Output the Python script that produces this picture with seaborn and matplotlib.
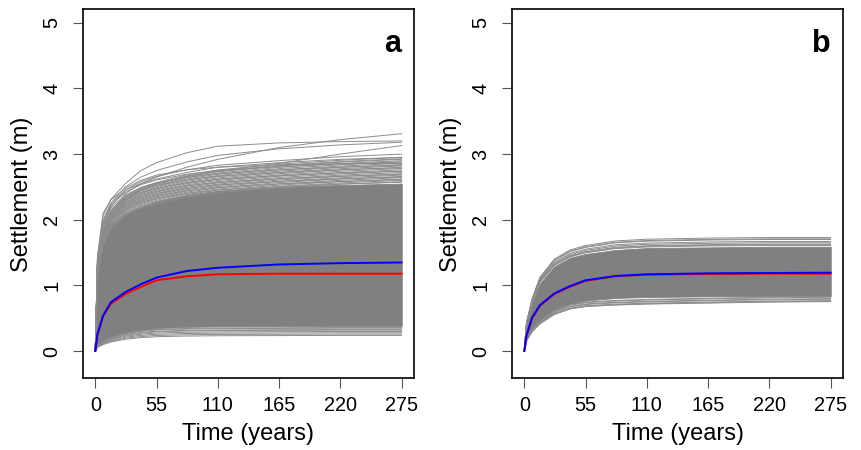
import numpy as np
import pandas as pd
import matplotlib
matplotlib.use("Agg")
import matplotlib.pyplot as plt
import seaborn as sns

# ---------------- data ----------------
time_years = [0, 2, 7, 14, 27, 41, 55, 82, 110, 165, 220, 275]
x_ticks = [0, 55, 110, 165, 220, 275]
y_ticks = [0, 1, 2, 3, 4, 5]
panel_labels = ["a", "b"]

# Panel a
a_mean_red = [0, 0.26, 0.53, 0.72, 0.87, 0.98, 1.08, 1.14, 1.17, 1.18, 1.18, 1.18]
a_mean_blue = [0, 0.26, 0.54, 0.745, 0.90, 1.02, 1.12, 1.22, 1.27, 1.32, 1.34, 1.35]
a_core_upper = [0, 1.30, 1.72, 1.93, 2.10, 2.20, 2.28, 2.38, 2.44, 2.50, 2.53, 2.55]
a_core_lower = [0, 0.08, 0.15, 0.21, 0.28, 0.32, 0.35, 0.37, 0.377, 0.381, 0.385, 0.385]
a_top_lines = [
    [0, 1.40, 2.06, 2.31, 2.55, 2.75, 2.87, 3.02, 3.12, 3.17, 3.19, 3.20],
    [0, 1.20, 1.80, 2.10, 2.40, 2.55, 2.65, 2.80, 2.92, 3.10, 3.22, 3.31],
    [0, 1.30, 1.95, 2.25, 2.50, 2.65, 2.75, 2.88, 2.98, 3.08, 3.14, 3.18],
    [0, 1.10, 1.70, 2.00, 2.30, 2.45, 2.55, 2.66, 2.74, 2.86, 3.00, 3.13],
    [0, 1.25, 1.90, 2.20, 2.45, 2.58, 2.66, 2.76, 2.83, 2.90, 2.96, 3.00],
    [0, 1.35, 2.00, 2.25, 2.45, 2.55, 2.62, 2.72, 2.80, 2.87, 2.92, 2.95],
    [0, 1.45, 2.10, 2.30, 2.48, 2.60, 2.68, 2.76, 2.80, 2.84, 2.85, 2.86],
]
a_shape_high = [0, 0.45, 0.62, 0.72, 0.80, 0.845, 0.87, 0.91, 0.935, 0.965, 0.985, 1.0]
a_high_finals = [2.95, 2.93, 2.92, 2.90, 2.88, 2.86, 2.84, 2.82, 2.80, 2.78,
                 2.76, 2.74, 2.72, 2.70, 2.68, 2.66, 2.64, 2.62, 2.60, 2.58]
a_shape_mid = [0, 0.50, 0.68, 0.77, 0.84, 0.88, 0.905, 0.935, 0.955, 0.975, 0.99, 1.0]
a_mid_finals = [2.88, 2.83, 2.79, 2.74, 2.69, 2.65, 2.61, 2.57]
a_shape_low = [0, 0.25, 0.42, 0.58, 0.76, 0.86, 0.92, 0.96, 0.98, 0.99, 1.0, 1.0]
a_low_finals = [0.24, 0.26, 0.28, 0.30, 0.32, 0.33, 0.35, 0.36]

# Panel b
b_mean_red = [0, 0.24, 0.50, 0.69, 0.87, 0.98, 1.07, 1.14, 1.165, 1.175, 1.18, 1.18]
b_mean_blue = [0, 0.24, 0.51, 0.70, 0.88, 0.99, 1.08, 1.145, 1.17, 1.185, 1.19, 1.195]
b_core_upper = [0, 0.40, 0.73, 1.03, 1.29, 1.42, 1.48, 1.54, 1.57, 1.58, 1.59, 1.59]
b_core_lower = [0, 0.17, 0.33, 0.47, 0.63, 0.72, 0.77, 0.81, 0.825, 0.835, 0.84, 0.84]
b_shape_high = [0, 0.25, 0.46, 0.65, 0.81, 0.89, 0.93, 0.97, 0.985, 0.995, 1.0, 1.0]
b_high_finals = [1.73, 1.71, 1.70, 1.67, 1.65, 1.63, 1.62, 1.61]
b_shape_low = [0, 0.22, 0.39, 0.55, 0.74, 0.85, 0.90, 0.93, 0.95, 0.97, 0.99, 1.0]
b_low_finals = [0.755, 0.76, 0.77, 0.79, 0.80, 0.82, 0.83]

# ---------------- build long tables ----------------
def lines_frame(explicit, groups):
    rows = []
    k = 0
    for ln in explicit:
        for t, v in zip(time_years, ln):
            rows.append((k, t, v))
        k += 1
    for shape, finals in groups:
        for f in finals:
            for t, s in zip(time_years, shape):
                rows.append((k, t, f * s))
            k += 1
    return pd.DataFrame(rows, columns=["line", "time", "settlement"])

panels = [
    dict(core=(a_core_lower, a_core_upper),
         lines=[lines_frame(a_top_lines, [(a_shape_high, a_high_finals),
                                          (a_shape_mid, a_mid_finals)]),
                lines_frame([], [(a_shape_low, a_low_finals)])],
         red=a_mean_red, blue=a_mean_blue),
    dict(core=(b_core_lower, b_core_upper),
         lines=[lines_frame([], [(b_shape_high, b_high_finals)]),
                lines_frame([], [(b_shape_low, b_low_finals)])],
         red=b_mean_red, blue=b_mean_blue),
]

# ---------------- plot ----------------
sns.set_theme(style="white")
plt.rcParams["font.family"] = ["Liberation Sans", "DejaVu Sans"]
plt.rcParams["text.color"] = "black"
plt.rcParams["axes.labelcolor"] = "black"
plt.rcParams["xtick.color"] = "black"
plt.rcParams["ytick.color"] = "black"

fig = plt.figure(figsize=(8.61, 4.5), dpi=100)
ax_pos = [[83 / 861, 72 / 450, 331 / 861, 369 / 450],
          [512 / 861, 72 / 450, 331 / 861, 369 / 450]]

gray = "#808080"
for i, p in enumerate(panels):
    ax = fig.add_axes(ax_pos[i])
    ax.fill_between(time_years, p["core"][0], p["core"][1], color=gray, lw=0.6,
                    edgecolor=gray)
    for df in p["lines"]:
        sns.lineplot(data=df, x="time", y="settlement", units="line",
                     estimator=None, color="#8c8c8c", lw=0.7, ax=ax,
                     legend=False)
    mean_df = pd.DataFrame({"time": time_years, "red": p["red"], "blue": p["blue"]})
    sns.lineplot(data=mean_df, x="time", y="red", color="#FF0000", lw=1.4, ax=ax)
    sns.lineplot(data=mean_df, x="time", y="blue", color="#0000FF", lw=1.4, ax=ax)

    ax.set_xlim(-11, 286)
    ax.set_ylim(-0.408, 5.208)
    ax.set_xticks(x_ticks)
    ax.set_yticks(y_ticks)
    ax.set_xticklabels([str(v) for v in x_ticks])
    ax.set_yticklabels([str(v) for v in y_ticks])
    ax.tick_params(axis="both", which="both", direction="out", length=7,
                   width=0.8, color="#555555", labelcolor="black",
                   labelsize=14.3, left=True, bottom=True)
    ax.tick_params(axis="x", pad=6.0)
    ax.tick_params(axis="y", pad=8.6)
    for lab in ax.get_yticklabels():
        lab.set_rotation(90)
        lab.set_va("center")
        lab.set_ha("right")
    for sp in ax.spines.values():
        sp.set_visible(True)
        sp.set_color("black")
        sp.set_linewidth(1.2)
    ax.grid(False)
    ax.set_xlabel("Time (years)", fontsize=17, color="black")
    ax.set_ylabel("Settlement (m)", fontsize=17, color="black")
    ax.xaxis.label.set_va("center")
    ax.yaxis.label.set_va("center")
    ax.xaxis.set_label_coords(0.5, -0.152)
    ax.yaxis.set_label_coords(-0.183, 0.497)
    ax.text(266.5, 4.68, panel_labels[i], fontsize=22, fontweight="bold",
            ha="center", va="center", color="black")

fig.savefig("out.png", dpi=100)
